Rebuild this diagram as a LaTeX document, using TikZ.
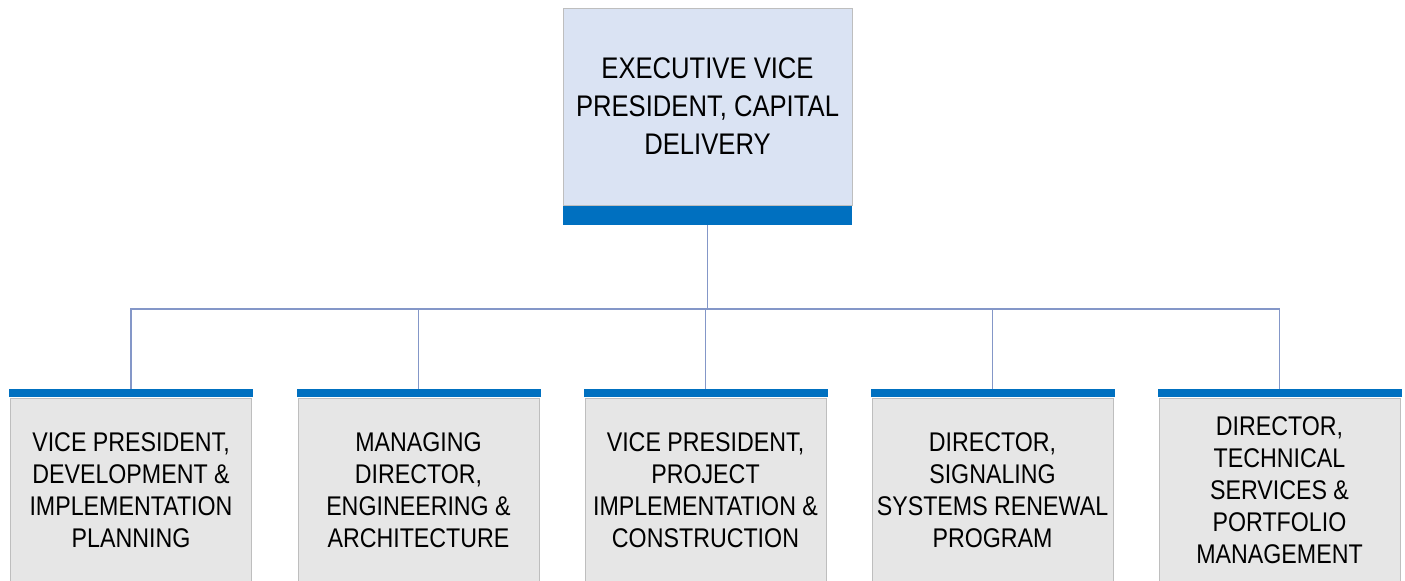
\documentclass[tikz,border=0pt]{standalone}
\usepackage{fontspec}
\setmainfont{Liberation Sans}[FakeStretch=0.86]
\definecolor{barblue}{RGB}{0,112,192}
\definecolor{headfill}{RGB}{218,227,243}
\definecolor{unitfill}{RGB}{230,230,230}
\definecolor{edgegray}{RGB}{190,190,190}
\definecolor{linkblue}{RGB}{132,151,200}
\tikzset{
    headbox/.style={draw=edgegray, fill=headfill, minimum width=144.5pt, minimum height=98.5pt,
        align=center, inner sep=0pt, font=\fontsize{14.9}{19}\selectfont},
    headbar/.style={fill=barblue, minimum width=144.5pt, minimum height=9.5pt, inner sep=0pt},
    unitbox/.style={draw=edgegray, fill=unitfill, minimum width=120.5pt, minimum height=92pt,
        align=center, inner sep=0pt, font=\fontsize{13.5}{16}\selectfont},
    unitbar/.style={fill=barblue, minimum width=122pt, minimum height=4pt, inner sep=0pt},
    link/.style={draw=linkblue, line width=0.8pt}
}
\begin{document}
\begin{tikzpicture}[x=0.5pt, y=-0.5pt]
    \useasboundingbox (0, 0) rectangle (1405, 581);
    \clip (0, 0) rectangle (1405, 581);
    % Draw top box
    \node [headbox] (evp) at (707.5, 106.5) {EXECUTIVE VICE\\PRESIDENT, CAPITAL\\DELIVERY};
    \node [headbar, anchor=north] (evpbar) at (evp.south) {};
    % Draw unit boxes
    \node [unitbox] (dev) at (131, 490) {VICE PRESIDENT,\\DEVELOPMENT \&\\IMPLEMENTATION\\PLANNING};
    \node [unitbar, anchor=south] (devbar) at (dev.north) {};
    \node [unitbox] (eng) at (418.5, 490) {MANAGING\\DIRECTOR,\\ENGINEERING \&\\ARCHITECTURE};
    \node [unitbar, anchor=south] (engbar) at (eng.north) {};
    \node [unitbox] (pic) at (705.5, 490) {VICE PRESIDENT,\\PROJECT\\IMPLEMENTATION \&\\CONSTRUCTION};
    \node [unitbar, anchor=south] (picbar) at (pic.north) {};
    \node [unitbox] (ssr) at (992.5, 490) {DIRECTOR,\\SIGNALING\\SYSTEMS RENEWAL\\PROGRAM};
    \node [unitbar, anchor=south] (ssrbar) at (ssr.north) {};
    \node [unitbox] (tsp) at (1279.5, 490) {DIRECTOR,\\TECHNICAL\\SERVICES \&\\PORTFOLIO\\MANAGEMENT};
    \node [unitbar, anchor=south] (tspbar) at (tsp.north) {};
    % Draw links
    \coordinate (split) at (707.5, 309);
    \draw [link] (evpbar.south) -- (split);
    \draw [link] (split) -| (devbar.north);
    \draw [link] (split) -| (engbar.north);
    \draw [link] (split) -- (picbar.north |- split) -- (picbar.north);
    \draw [link] (split) -| (ssrbar.north);
    \draw [link] (split) -| (tspbar.north);
\end{tikzpicture}
\end{document}
